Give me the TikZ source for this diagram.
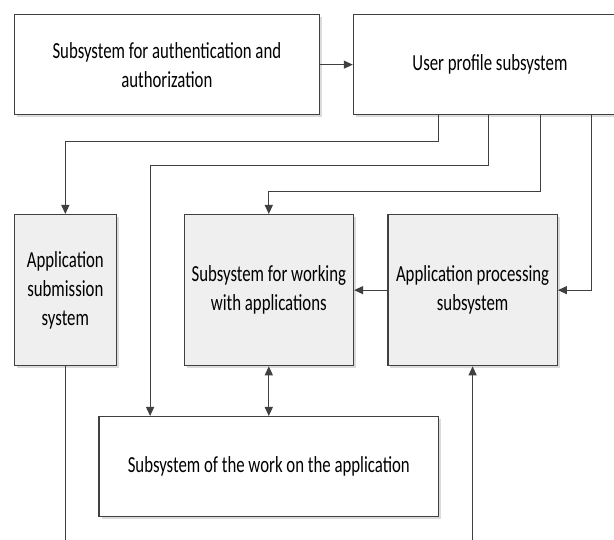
\documentclass[tikz,border=0pt]{standalone}
\usepackage{fontspec}
\setmainfont{Carlito}[FakeStretch=0.73]
\usetikzlibrary{arrows.meta,shadows,calc}
\definecolor{edge}{HTML}{404040}
\definecolor{boxgray}{HTML}{EFEFEF}
\tikzset{
  box/.style={draw=edge, line width=1.3pt, fill=white, inner sep=0pt, anchor=north west,
    align=center, font=\fontsize{23}{29}\selectfont,
    drop shadow={shadow xshift=2.5pt, shadow yshift=-2.5pt, fill=black!14, opacity=1}},
  graybox/.style={box, fill=boxgray},
  conn/.style={draw=edge, line width=1.1pt},
  arr/.style={conn, -{Triangle[length=9pt,width=8pt]}},
  darr/.style={conn, {Triangle[length=9pt,width=8pt]}-{Triangle[length=9pt,width=8pt]}}
}
\begin{document}
\begin{tikzpicture}[x=1pt,y=1pt]
\useasboundingbox (0,0) rectangle (614,-540);
\node[box, minimum width=305, minimum height=100] (auth) at (13.7,-14) {Subsystem for authentication and\\authorization};
\node[box, minimum width=273, minimum height=100] (user) at (352.8,-14) {User profile subsystem};
\node[graybox, minimum width=102, minimum height=151] (sub) at (13.7,-214) {Application\\submission\\system};
\node[graybox, minimum width=169.3, minimum height=151] (work) at (183.5,-214) {Subsystem for working\\with applications};
\node[graybox, minimum width=169.3, minimum height=151] (proc) at (387.3,-214) {Application processing\\subsystem};
\node[box, minimum width=339.5, minimum height=100] (onapp) at (98.4,-416) {Subsystem of the work on the application};
\coordinate (subend) at ($(sub.south)+(0,-200)$);
\coordinate (procstart) at ($(proc.south)+(0,-200)$);

\draw[arr] (auth.east) -- (auth.east -| user.west);
\draw[arr] ([xshift=85.5pt]user.south west) -- ++(0,-26) -| (sub.north);
\draw[arr] ([xshift=136pt]user.south west) -- ++(0,-50) -| ([xshift=51.7pt]onapp.north west);
\draw[arr] ([xshift=187.4pt]user.south west) -- ++(0,-76) -| (work.north);
\draw[arr] ([xshift=238.3pt]user.south west) |- (proc.east);
\draw[arr] (proc.west) -- (work.east);
\draw[darr] (work.south) -- (onapp.north);
\draw[conn] (sub.south) -- (subend);
\draw[arr] (procstart) -- (proc.south);
\end{tikzpicture}
\end{document}
